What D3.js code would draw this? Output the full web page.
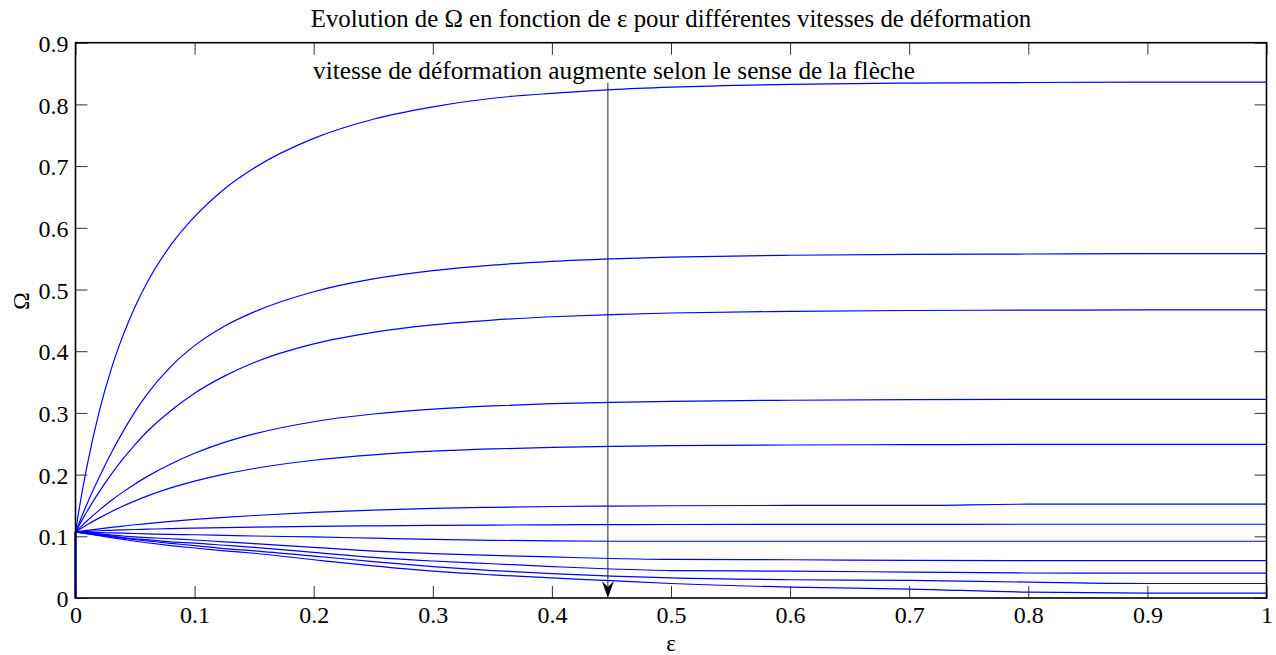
<!DOCTYPE html>
<html>
<head>
<meta charset="utf-8">
<script src="https://cdn.jsdelivr.net/npm/d3@7"></script>
<style>
  html, body { margin: 0; padding: 0; background: #fff; }
  svg { display: block; }
  text { font-family: "Liberation Serif", "Times New Roman", serif; fill: #000; }
</style>
</head>
<body>
<svg id="chart" width="1276" height="655"></svg>
<script>
// Strain samples (ε) shared by all curves; the first two points form the jump at ε = 0
const epsilon = [0, 0, 0.005, 0.01, 0.02, 0.03, 0.04, 0.05, 0.06, 0.08, 0.1, 0.125, 0.15,
                 0.2, 0.25, 0.3, 0.35, 0.4, 0.45, 0.5, 0.6, 0.7, 0.8, 0.9, 1.0];

// Ω for each strain rate, from slowest (top) to fastest (bottom)
const omega1  = [0, 0.107, 0.166, 0.217, 0.303, 0.371, 0.426, 0.472, 0.511, 0.572, 0.618, 0.663, 0.697, 0.745, 0.776, 0.796, 0.810, 0.818, 0.824, 0.828, 0.8325, 0.8345, 0.8355, 0.836, 0.836];
const omega2  = [0, 0.107, 0.131, 0.154, 0.196, 0.235, 0.270, 0.302, 0.330, 0.375, 0.409, 0.4405, 0.4637, 0.4963, 0.5171, 0.5306, 0.5396, 0.5457, 0.5497, 0.5525, 0.5555, 0.557, 0.5575, 0.558, 0.558];
const omega3  = [0, 0.107, 0.1246, 0.1413, 0.1723, 0.2003, 0.2257, 0.2487, 0.2694, 0.3036, 0.3319, 0.3596, 0.3817, 0.4118, 0.4305, 0.4426, 0.4504, 0.4558, 0.4594, 0.4619, 0.4645, 0.466, 0.4665, 0.467, 0.467];
const omega4  = [0, 0.107, 0.1165, 0.1255, 0.1424, 0.1579, 0.172, 0.1849, 0.1967, 0.2173, 0.2346, 0.2522, 0.266, 0.2857, 0.2982, 0.3062, 0.3114, 0.3149, 0.3172, 0.3188, 0.3205, 0.3215, 0.322, 0.322, 0.322];
const omega5  = [0, 0.107, 0.1131, 0.119, 0.1299, 0.1399, 0.1491, 0.1575, 0.1652, 0.1785, 0.1895, 0.2008, 0.2099, 0.2233, 0.2321, 0.2379, 0.2416, 0.2441, 0.2458, 0.2469, 0.248, 0.2485, 0.249, 0.249, 0.249];
const omega6  = [0, 0.107, 0.1083, 0.1096, 0.1121, 0.1144, 0.1166, 0.1187, 0.1206, 0.1242, 0.1273, 0.1307, 0.1337, 0.1387, 0.1425, 0.1453, 0.147, 0.1483, 0.149, 0.1495, 0.150, 0.150, 0.152, 0.152, 0.152];
const omega7  = [0, 0.107, 0.1075, 0.108, 0.109, 0.1097, 0.1104, 0.111, 0.1115, 0.1125, 0.1133, 0.1142, 0.115, 0.1162, 0.117, 0.1177, 0.1182, 0.1186, 0.1189, 0.1191, 0.1193, 0.1194, 0.1195, 0.1195, 0.1195];
const omega8  = [0, 0.107, 0.107, 0.1065, 0.106, 0.1055, 0.105, 0.1045, 0.104, 0.103, 0.1025, 0.1015, 0.1005, 0.099, 0.097, 0.095, 0.0935, 0.0925, 0.092, 0.092, 0.092, 0.092, 0.092, 0.092, 0.092];
const omega9  = [0, 0.107, 0.106, 0.1055, 0.104, 0.102, 0.1005, 0.099, 0.098, 0.096, 0.094, 0.091, 0.088, 0.082, 0.076, 0.072, 0.069, 0.0665, 0.064, 0.0625, 0.062, 0.061, 0.0605, 0.0605, 0.0605];
const omega10 = [0, 0.107, 0.106, 0.105, 0.103, 0.1005, 0.098, 0.096, 0.0945, 0.091, 0.089, 0.0855, 0.082, 0.074, 0.066, 0.060, 0.0555, 0.051, 0.047, 0.0445, 0.0435, 0.042, 0.0405, 0.0403, 0.0403];
const omega11 = [0, 0.107, 0.106, 0.1045, 0.102, 0.0995, 0.097, 0.0945, 0.0925, 0.0885, 0.085, 0.080, 0.0765, 0.068, 0.059, 0.051, 0.0445, 0.0395, 0.0355, 0.0325, 0.0296, 0.0285, 0.0257, 0.0235, 0.0235];
const omega12 = [0, 0.107, 0.1055, 0.104, 0.101, 0.098, 0.095, 0.092, 0.0895, 0.085, 0.081, 0.0765, 0.0725, 0.062, 0.052, 0.0435, 0.0375, 0.0325, 0.028, 0.0235, 0.0176, 0.0145, 0.0095, 0.008, 0.0078];

const seriesList = [omega1, omega2, omega3, omega4, omega5, omega6,
                    omega7, omega8, omega9, omega10, omega11, omega12];

const xTicks = [0, 0.1, 0.2, 0.3, 0.4, 0.5, 0.6, 0.7, 0.8, 0.9, 1];
const yTicks = [0, 0.1, 0.2, 0.3, 0.4, 0.5, 0.6, 0.7, 0.8, 0.9];

// Arrow showing the direction of increasing strain rate: [ε, Ω] start and end
const arrowStart = [0.447, 0.835];
const arrowEnd   = [0.447, 0.0];

const titleText = "Evolution de \u03A9 en fonction de \u03B5 pour diff\u00E9rentes vitesses de d\u00E9formation";
const noteText  = "vitesse de d\u00E9formation augmente selon le sense de la fl\u00E8che";

const svg = d3.select("#chart");
const plot = { left: 75.5, right: 1266.5, top: 42.7, bottom: 598 };

const x = d3.scaleLinear().domain([0, 1]).range([plot.left, plot.right]);
const y = d3.scaleLinear().domain([0, 0.9]).range([plot.bottom, plot.top]);

const tickFont = 24;

// Curves: the vertical jump at ε = 0, then the smooth evolution
const stub = d3.line().x(d => x(d[0])).y(d => y(d[1]));
const smooth = d3.line().x(d => x(d[0])).y(d => y(d[1])).curve(d3.curveMonotoneX);

const curves = svg.append("g").attr("fill", "none").attr("stroke", "#0000ff").attr("stroke-width", 1.2);
seriesList.forEach(vals => {
  const pts = epsilon.map((e, i) => [e, vals[i]]);
  curves.append("path").attr("d", stub(pts.slice(0, 2)));
  curves.append("path").attr("d", smooth(pts.slice(1)));
});

// Box with inward ticks on all four sides
const tickLen = 12;
const axes = svg.append("g");
const xBottom = d3.axisBottom(x).tickValues(xTicks).tickSizeInner(-tickLen).tickSizeOuter(0).tickFormat(d3.format("~g"));
const xTop = d3.axisTop(x).tickValues(xTicks).tickSizeInner(-tickLen).tickSizeOuter(0).tickFormat("");
const yLeft = d3.axisLeft(y).tickValues(yTicks).tickSizeInner(-tickLen).tickSizeOuter(0).tickFormat(d3.format("~g"));
const yRight = d3.axisRight(y).tickValues(yTicks).tickSizeInner(-tickLen).tickSizeOuter(0).tickFormat("");

const gxb = axes.append("g").attr("transform", `translate(0,${plot.bottom})`).call(xBottom);
const gxt = axes.append("g").attr("transform", `translate(0,${plot.top})`).call(xTop);
const gyl = axes.append("g").attr("transform", `translate(${plot.left},0)`).call(yLeft);
const gyr = axes.append("g").attr("transform", `translate(${plot.right},0)`).call(yRight);

[gxb, gxt, gyl, gyr].forEach(g => {
  g.select(".domain").remove();
  g.selectAll(".tick line").attr("stroke", "#333").attr("stroke-width", 1);
  g.selectAll("text").style("font-family", "'Liberation Serif', serif").style("font-size", tickFont + "px").attr("fill", "#000");
});
gxb.selectAll(".tick text").attr("y", 8).attr("dy", "0.71em");
gyl.selectAll(".tick text").attr("x", -7).attr("dy", "0.36em");

axes.append("rect")
  .attr("x", plot.left).attr("y", plot.top)
  .attr("width", plot.right - plot.left).attr("height", plot.bottom - plot.top)
  .attr("fill", "none").attr("stroke", "#000").attr("stroke-width", 1.6);

// Title and axis labels
svg.append("text").attr("x", (plot.left + plot.right) / 2).attr("y", 27)
  .attr("text-anchor", "middle").style("font-size", "24.8px").text(titleText);
svg.append("text").attr("x", (plot.left + plot.right) / 2).attr("y", 651)
  .attr("text-anchor", "middle").style("font-size", "23px").text("\u03B5");
svg.append("text").attr("transform", "translate(29,301) rotate(-90)")
  .attr("text-anchor", "middle").style("font-size", "24px").text("\u03A9");

// Annotation text and arrow
svg.append("text").attr("x", 313).attr("y", 79).style("font-size", "25.3px").text(noteText);

const ax0 = x(arrowStart[0]), ay0 = y(arrowStart[1]);
const ax1 = x(arrowEnd[0]), ay1 = y(arrowEnd[1]);
svg.append("line").attr("x1", ax0).attr("y1", ay0).attr("x2", ax1).attr("y2", ay1 - 6)
  .attr("stroke", "#222").attr("stroke-width", 1);
const headLen = 17, headHalf = 6;
svg.append("path")
  .attr("d", `M${ax1},${ay1} L${ax1 - headHalf},${ay1 - headLen} L${ax1},${ay1 - headLen + 6} L${ax1 + headHalf},${ay1 - headLen} Z`)
  .attr("fill", "#000");
</script>
</body>
</html>
